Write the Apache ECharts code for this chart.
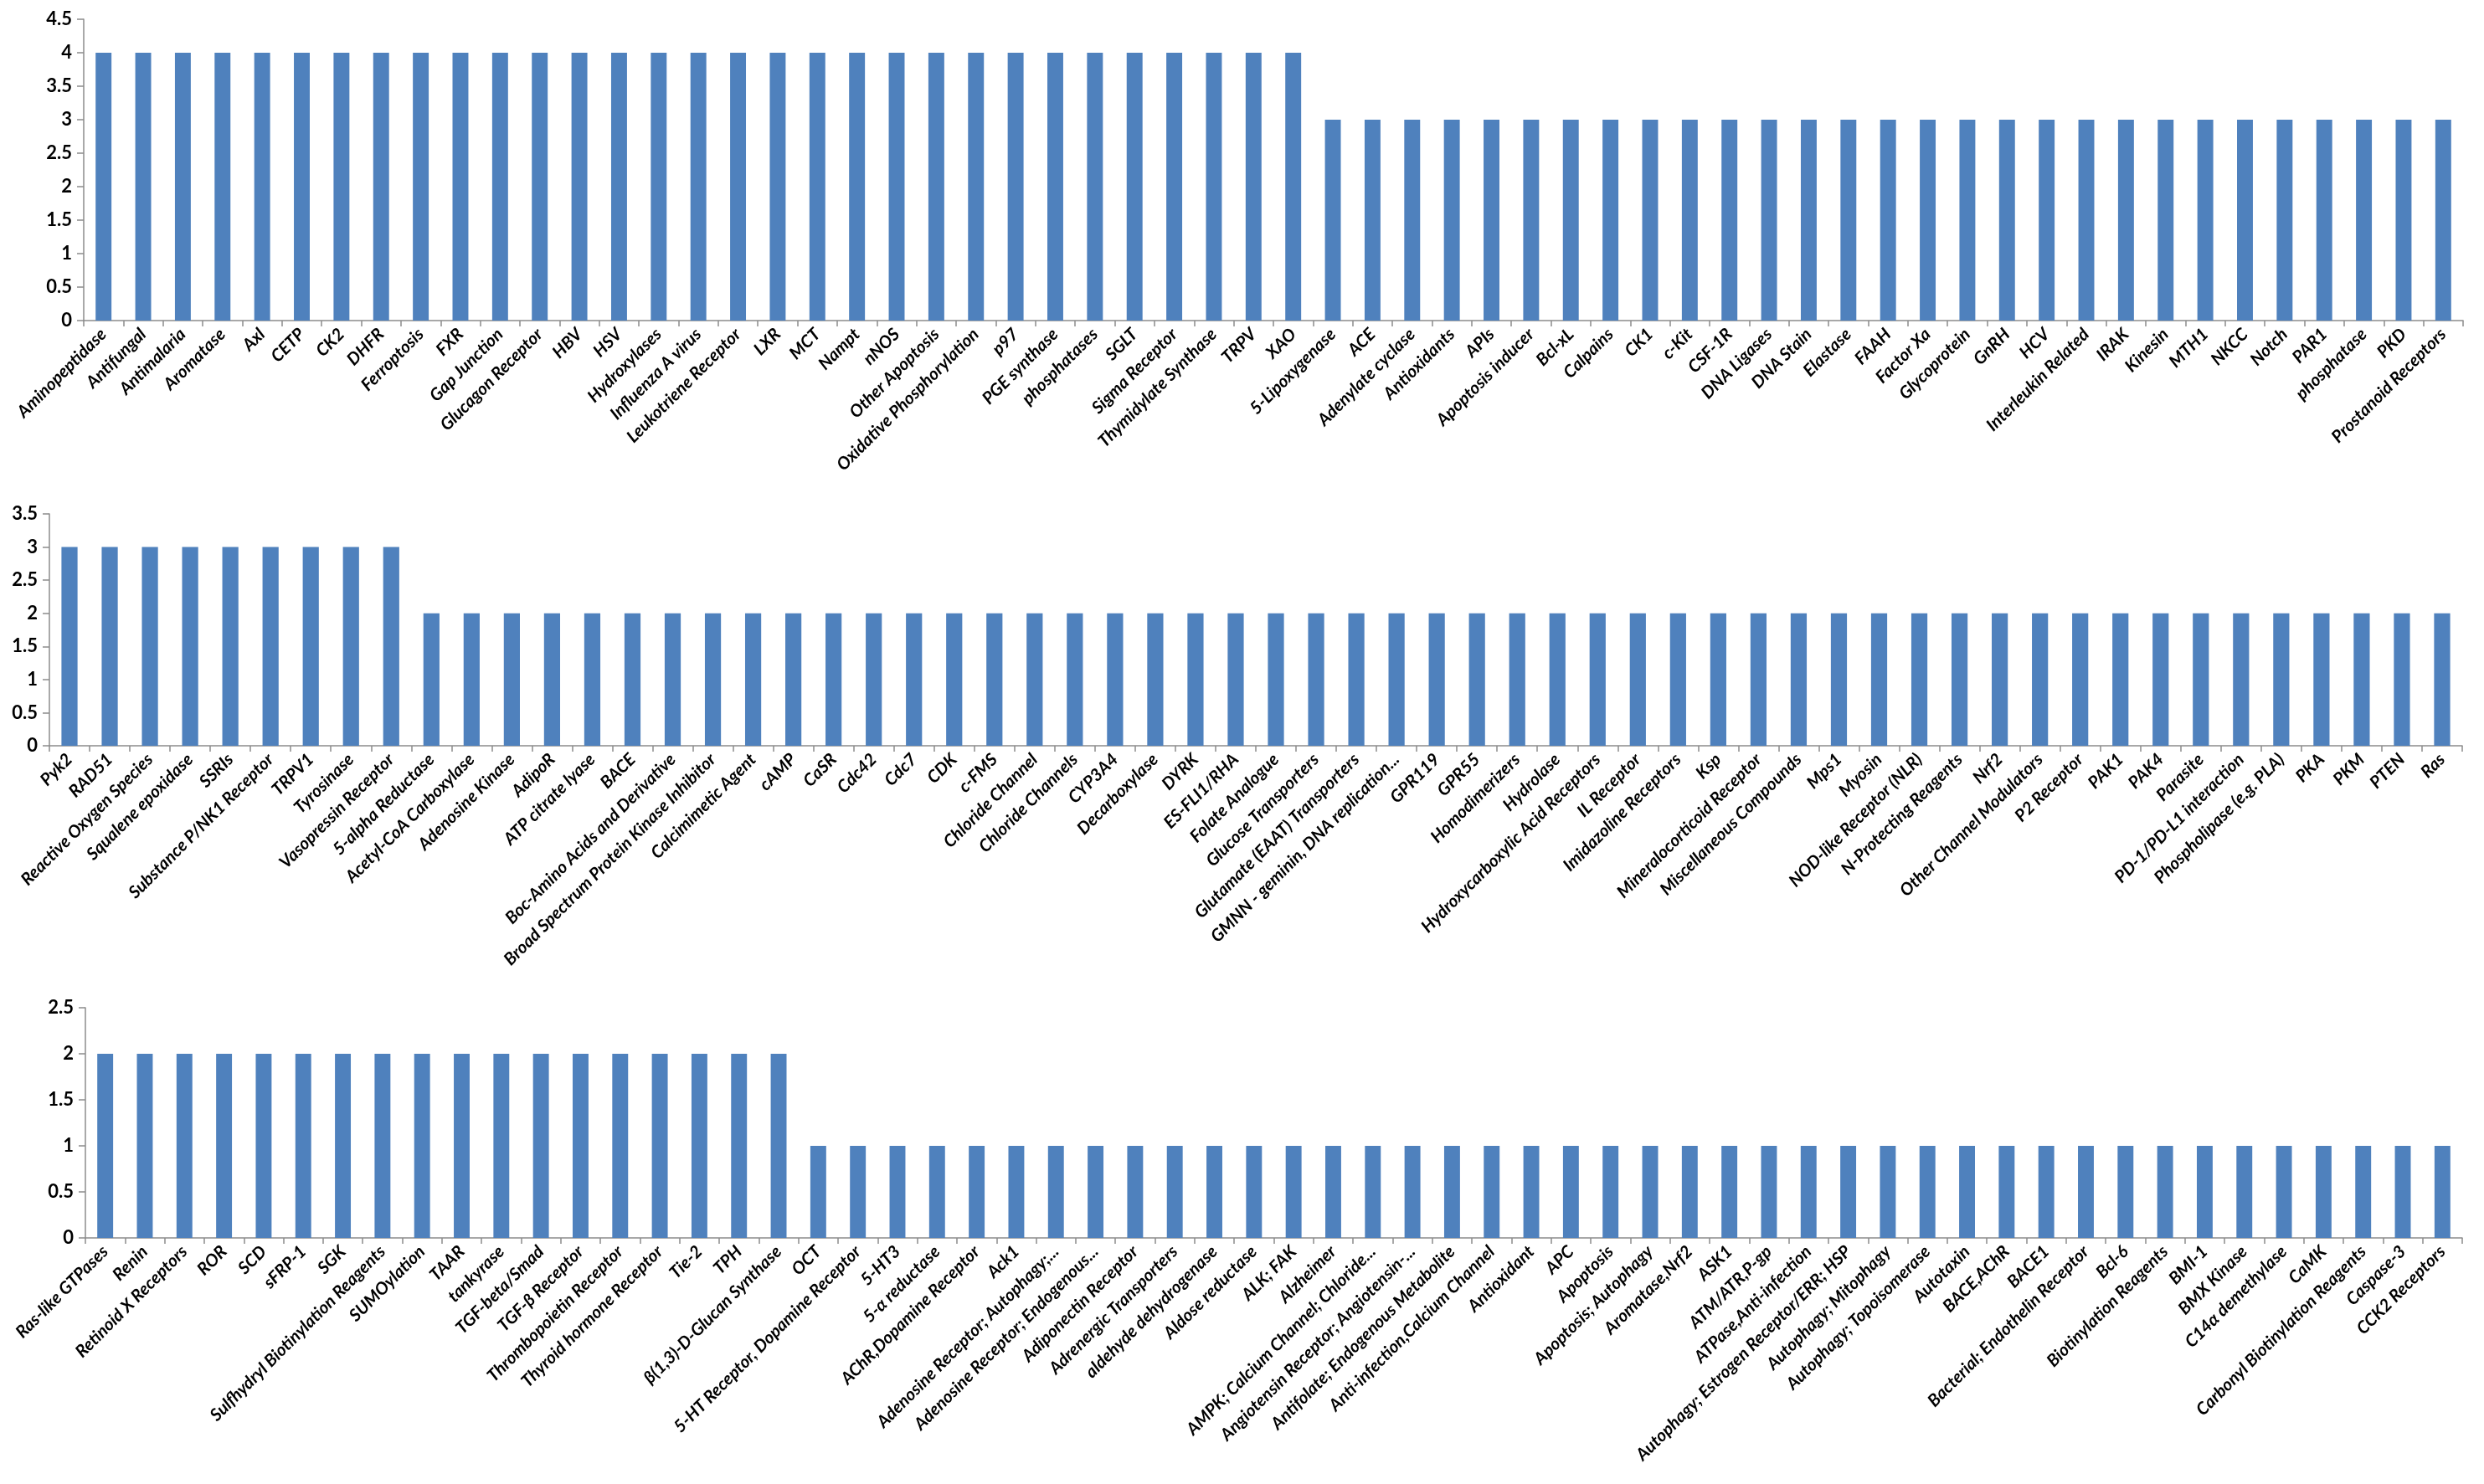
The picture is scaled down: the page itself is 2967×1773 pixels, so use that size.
<!DOCTYPE html>
<html>
<head>
<meta charset="utf-8">
<script src="https://cdn.jsdelivr.net/npm/echarts@6/dist/echarts.min.js"></script>
<style>
  html, body { margin: 0; padding: 0; background: #fff; }
  #chart { width: 2967px; height: 1773px; }
</style>
</head>
<body>
<div id="chart"></div>
<script>
// panel 1
var categories1 = ['Aminopeptidase','Antifungal','Antimalaria','Aromatase','Axl','CETP','CK2','DHFR','Ferroptosis','FXR',
  'Gap Junction','Glucagon Receptor','HBV','HSV','Hydroxylases','Influenza A virus','Leukotriene Receptor','LXR','MCT','Nampt',
  'nNOS','Other Apoptosis','Oxidative Phosphorylation','p97','PGE synthase','phosphatases','SGLT','Sigma Receptor','Thymidylate Synthase','TRPV',
  'XAO','5-Lipoxygenase','ACE','Adenylate cyclase','Antioxidants','APIs','Apoptosis inducer','Bcl-xL','Calpains','CK1',
  'c-Kit','CSF-1R','DNA Ligases','DNA Stain','Elastase','FAAH','Factor Xa','Glycoprotein','GnRH','HCV',
  'Interleukin Related','IRAK','Kinesin','MTH1','NKCC','Notch','PAR1','phosphatase','PKD','Prostanoid Receptors'];
var values1 = [4,4,4,4,4,4,4,4,4,4, 4,4,4,4,4,4,4,4,4,4, 4,4,4,4,4,4,4,4,4,4,
  4,3,3,3,3,3,3,3,3,3, 3,3,3,3,3,3,3,3,3,3, 3,3,3,3,3,3,3,3,3,3];

// panel 2
var categories2 = ['Pyk2','RAD51','Reactive Oxygen Species','Squalene epoxidase','SSRIs','Substance P/NK1 Receptor','TRPV1','Tyrosinase','Vasopressin Receptor','5-alpha Reductase',
  'Acetyl-CoA Carboxylase','Adenosine Kinase','AdipoR','ATP citrate lyase','BACE','Boc-Amino Acids and Derivative','Broad Spectrum Protein Kinase Inhibitor','Calcimimetic Agent','cAMP','CaSR',
  'Cdc42','Cdc7','CDK','c-FMS','Chloride Channel','Chloride Channels','CYP3A4','Decarboxylase','DYRK','ES-FLI1/RHA',
  'Folate Analogue','Glucose Transporters','Glutamate (EAAT) Transporters','GMNN - geminin, DNA replication...','GPR119','GPR55','Homodimerizers','Hydrolase','Hydroxycarboxylic Acid Receptors','IL Receptor',
  'Imidazoline Receptors','Ksp','Mineralocorticoid Receptor','Miscellaneous Compounds','Mps1','Myosin','NOD-like Receptor (NLR)','N-Protecting Reagents','Nrf2','Other Channel Modulators',
  'P2 Receptor','PAK1','PAK4','Parasite','PD-1/PD-L1 interaction','Phospholipase (e.g. PLA)','PKA','PKM','PTEN','Ras'];
var values2 = [3,3,3,3,3,3,3,3,3,2, 2,2,2,2,2,2,2,2,2,2, 2,2,2,2,2,2,2,2,2,2,
  2,2,2,2,2,2,2,2,2,2, 2,2,2,2,2,2,2,2,2,2, 2,2,2,2,2,2,2,2,2,2];

// panel 3
var categories3 = ['Ras-like GTPases','Renin','Retinoid X Receptors','ROR','SCD','sFRP-1','SGK','Sulfhydryl Biotinylation Reagents','SUMOylation','TAAR',
  'tankyrase','TGF-beta/Smad','TGF-β Receptor','Thrombopoietin Receptor','Thyroid hormone Receptor','Tie-2','TPH','β(1,3)-D-Glucan Synthase','OCT','5-HT Receptor, Dopamine Receptor',
  '5-HT3','5-α reductase','AChR,Dopamine Receptor','Ack1','Adenosine Receptor; Autophagy;...','Adenosine Receptor; Endogenous...','Adiponectin Receptor','Adrenergic Transporters','aldehyde dehydrogenase','Aldose reductase',
  'ALK; FAK','Alzheimer','AMPK; Calcium Channel; Chloride...','Angiotensin Receptor; Angiotensin-...','Antifolate; Endogenous Metabolite','Anti-infection,Calcium Channel','Antioxidant','APC','Apoptosis','Apoptosis; Autophagy',
  'Aromatase,Nrf2','ASK1','ATM/ATR,P-gp','ATPase,Anti-infection','Autophagy; Estrogen Receptor/ERR; HSP','Autophagy; Mitophagy','Autophagy; Topoisomerase','Autotaxin','BACE,AChR','BACE1',
  'Bacterial; Endothelin Receptor','Bcl-6','Biotinylation Reagents','BMI-1','BMX Kinase','C14α demethylase','CaMK','Carbonyl Biotinylation Reagents','Caspase-3','CCK2 Receptors'];
var values3 = [2,2,2,2,2,2,2,2,2,2, 2,2,2,2,2,2,2,2,1,1, 1,1,1,1,1,1,1,1,1,1,
  1,1,1,1,1,1,1,1,1,1, 1,1,1,1,1,1,1,1,1,1, 1,1,1,1,1,1,1,1,1,1];

var yMax = [4.5, 3.5, 2.5];

var axisColor = '#8c8c8c';
var barColor = '#4f81bd';
var fontFam = 'Lato, "Open Sans", sans-serif';

var grids = [
  {left: 100, right: 25, top: 23, height: 360},
  {left: 59, right: 26, top: 614, height: 277},
  {left: 102, right: 26, top: 1204, height: 275}
];
var cats = [categories1, categories2, categories3];
var vals = [values1, values2, values3];

var xAxes = [], yAxes = [], series = [];
for (var i = 0; i < 3; i++) {
  xAxes.push({
    type: 'category',
    gridIndex: i,
    data: cats[i],
    axisLine: {lineStyle: {color: axisColor, width: 1.5}},
    axisTick: {show: true, length: 7, lineStyle: {color: axisColor, width: 1.5}},
    axisLabel: {
      interval: 0,
      rotate: 45,
      margin: 13,
      color: '#000',
      fontFamily: fontFam,
      fontWeight: 'bold',
      fontStyle: 'italic',
      fontSize: 20.5
    }
  });
  yAxes.push({
    type: 'value',
    gridIndex: i,
    min: 0,
    max: yMax[i],
    interval: 0.5,
    splitLine: {show: false},
    axisLine: {show: true, lineStyle: {color: axisColor, width: 1.5}},
    axisTick: {show: true, length: 8, lineStyle: {color: axisColor, width: 1.5}},
    axisLabel: {
      margin: 14,
      color: '#000',
      fontFamily: fontFam,
      fontWeight: 'bold',
      fontSize: 22
    }
  });
  series.push({
    type: 'bar',
    xAxisIndex: i,
    yAxisIndex: i,
    data: vals[i],
    barWidth: '40%',
    itemStyle: {color: barColor},
    animation: false
  });
}

var myChart = echarts.init(document.getElementById('chart'));
myChart.setOption({
  backgroundColor: '#fff',
  animation: false,
  grid: grids,
  xAxis: xAxes,
  yAxis: yAxes,
  series: series
});
window.onresize = myChart.resize;
</script>
</body>
</html>
